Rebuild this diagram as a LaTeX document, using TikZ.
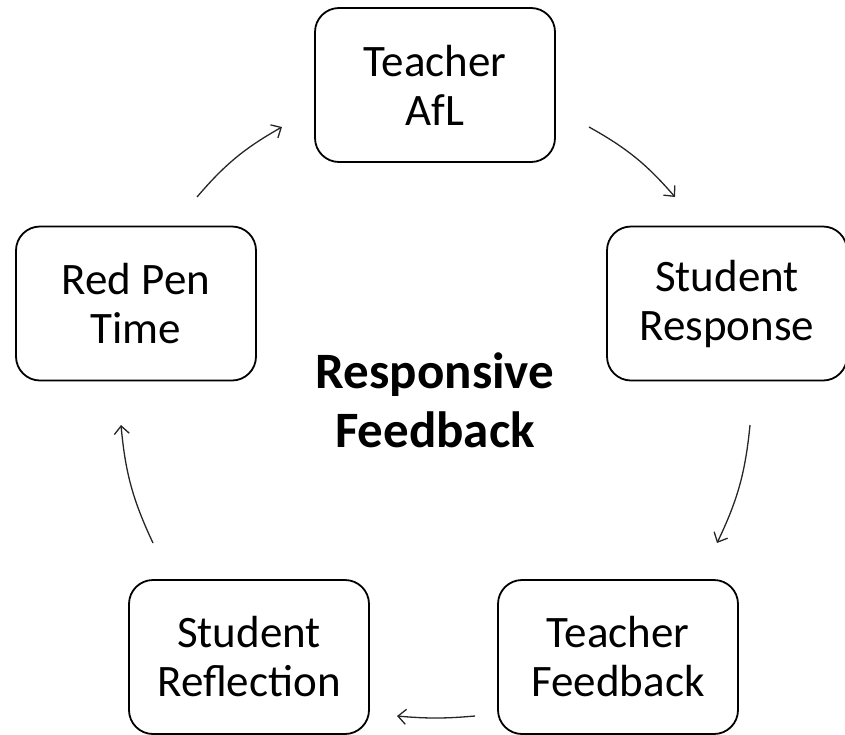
\documentclass[tikz,border=0pt]{standalone}
\usepackage{fontspec}
\setmainfont{Carlito}
\usetikzlibrary{arrows.meta}
\tikzset{
  stage/.style={draw=black, line width=1.8pt, rounded corners=24pt,
    minimum width=240pt, minimum height=154pt, align=center,
    font=\fontsize{45}{49}\selectfont, inner sep=0pt},
  cyc/.style={draw=black!85, line width=1.3pt,
    -{Straight Barb[length=8pt,width=15pt,line width=1.3pt]}, bend left=10},
  title/.style={align=center, font=\fontsize{51}{59}\selectfont\bfseries}
}
\begin{document}
\begin{tikzpicture}[x=1pt,y=-1pt]
\useasboundingbox (0,0) rectangle (845,734);
\node[stage] (afl) at (435,85) {Teacher\\AfL};
\node[stage] (resp) at (727,303.5) {Student\\Response};
\node[stage] (fb) at (618,657) {Teacher\\Feedback};
\node[stage] (refl) at (249,657) {Student\\Reflection};
\node[stage] (red) at (136,303.5) {Red Pen\\Time};
\node[title] (ctr) at (435,400) {Responsive\\Feedback};
\coordinate (a1s) at (197,197); \coordinate (a1e) at (282,127);
\coordinate (a2s) at (589,127); \coordinate (a2e) at (675,197);
\coordinate (a3s) at (750,425); \coordinate (a3e) at (717,543);
\coordinate (a4s) at (475,716); \coordinate (a4e) at (397,716);
\coordinate (a5s) at (153,543); \coordinate (a5e) at (121,425);
\draw[cyc] (a1s) to (a1e);
\draw[cyc] (a2s) to (a2e);
\draw[cyc] (a3s) to (a3e);
\draw[cyc, bend left=5] (a4s) to (a4e);
\draw[cyc] (a5s) to (a5e);
\end{tikzpicture}
\end{document}
